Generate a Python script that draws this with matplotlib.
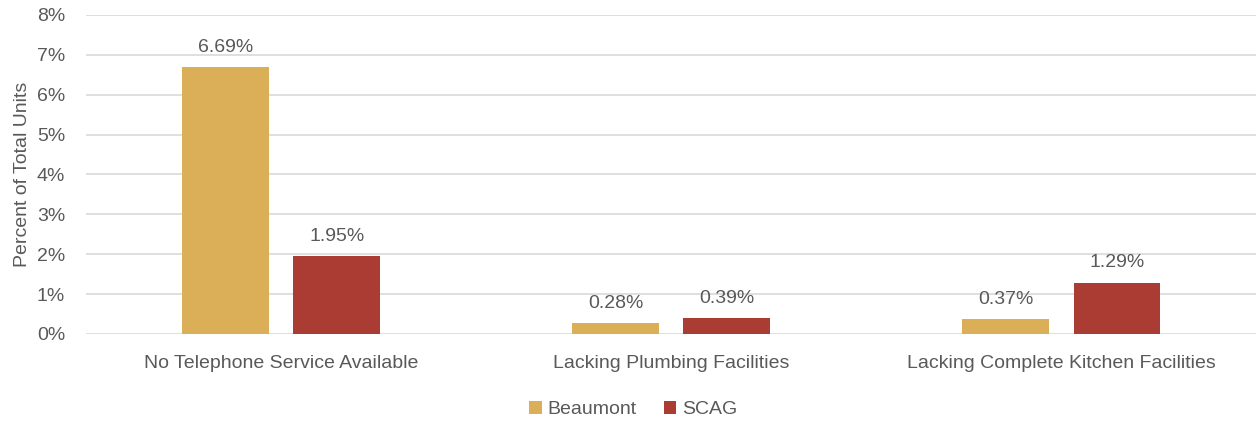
import matplotlib
matplotlib.use("Agg")
import matplotlib.pyplot as plt
import numpy as np
from matplotlib.ticker import FuncFormatter

categories = ["No Telephone Service Available", "Lacking Plumbing Facilities",
              "Lacking Complete Kitchen Facilities"]
beaumont = [6.69, 0.28, 0.37]
scag = [1.95, 0.39, 1.29]
series_names = ["Beaumont", "SCAG"]

GOLD = "#DBAE58"
RED = "#AB3C33"
TEXT = "#595959"
FS = 14

plt.rcParams["font.family"] = ["Liberation Sans", "DejaVu Sans"]

fig = plt.figure(figsize=(12.59, 4.21), dpi=100)
ax = fig.add_axes([0.0683, 0.2067, 0.9297, 0.7577])

x = np.arange(len(categories))
w = 0.2225
off = 0.1425
b1 = ax.bar(x - off, beaumont, w, color=GOLD, label=series_names[0], zorder=3)
b2 = ax.bar(x + off, scag, w, color=RED, label=series_names[1], zorder=3)

for bars, vals in ((b1, beaumont), (b2, scag)):
    for rect, v in zip(bars, vals):
        ax.annotate(f"{v:.2f}%", (rect.get_x() + rect.get_width() / 2, v),
                    xytext=(0, 8), textcoords="offset points",
                    ha="center", va="bottom", fontsize=FS, color=TEXT)

ax.set_xlim(-0.5, 2.5)
ax.set_ylim(0, 8)
ax.set_yticks(range(0, 9))
ax.yaxis.set_major_formatter(FuncFormatter(lambda v, p: f"{int(v)}%"))
ax.set_xticks(x)
ax.set_xticklabels(categories)
ax.tick_params(axis="both", length=0, labelsize=FS, colors=TEXT)
ax.tick_params(axis="y", pad=15)
ax.tick_params(axis="x", pad=15)
ax.grid(axis="y", color="#D9D9D9", linewidth=1.2, zorder=0)
for s in ax.spines.values():
    s.set_visible(False)
ax.set_ylabel("Percent of Total Units", fontsize=FS, color=TEXT, labelpad=4)

fig.legend(loc="center", bbox_to_anchor=(0.503, 0.028), ncol=2, frameon=False,
           fontsize=FS, labelcolor=TEXT, handlelength=0.65, handleheight=0.65,
           handletextpad=0.3, columnspacing=1.4)

fig.savefig("out.png", dpi=100)
